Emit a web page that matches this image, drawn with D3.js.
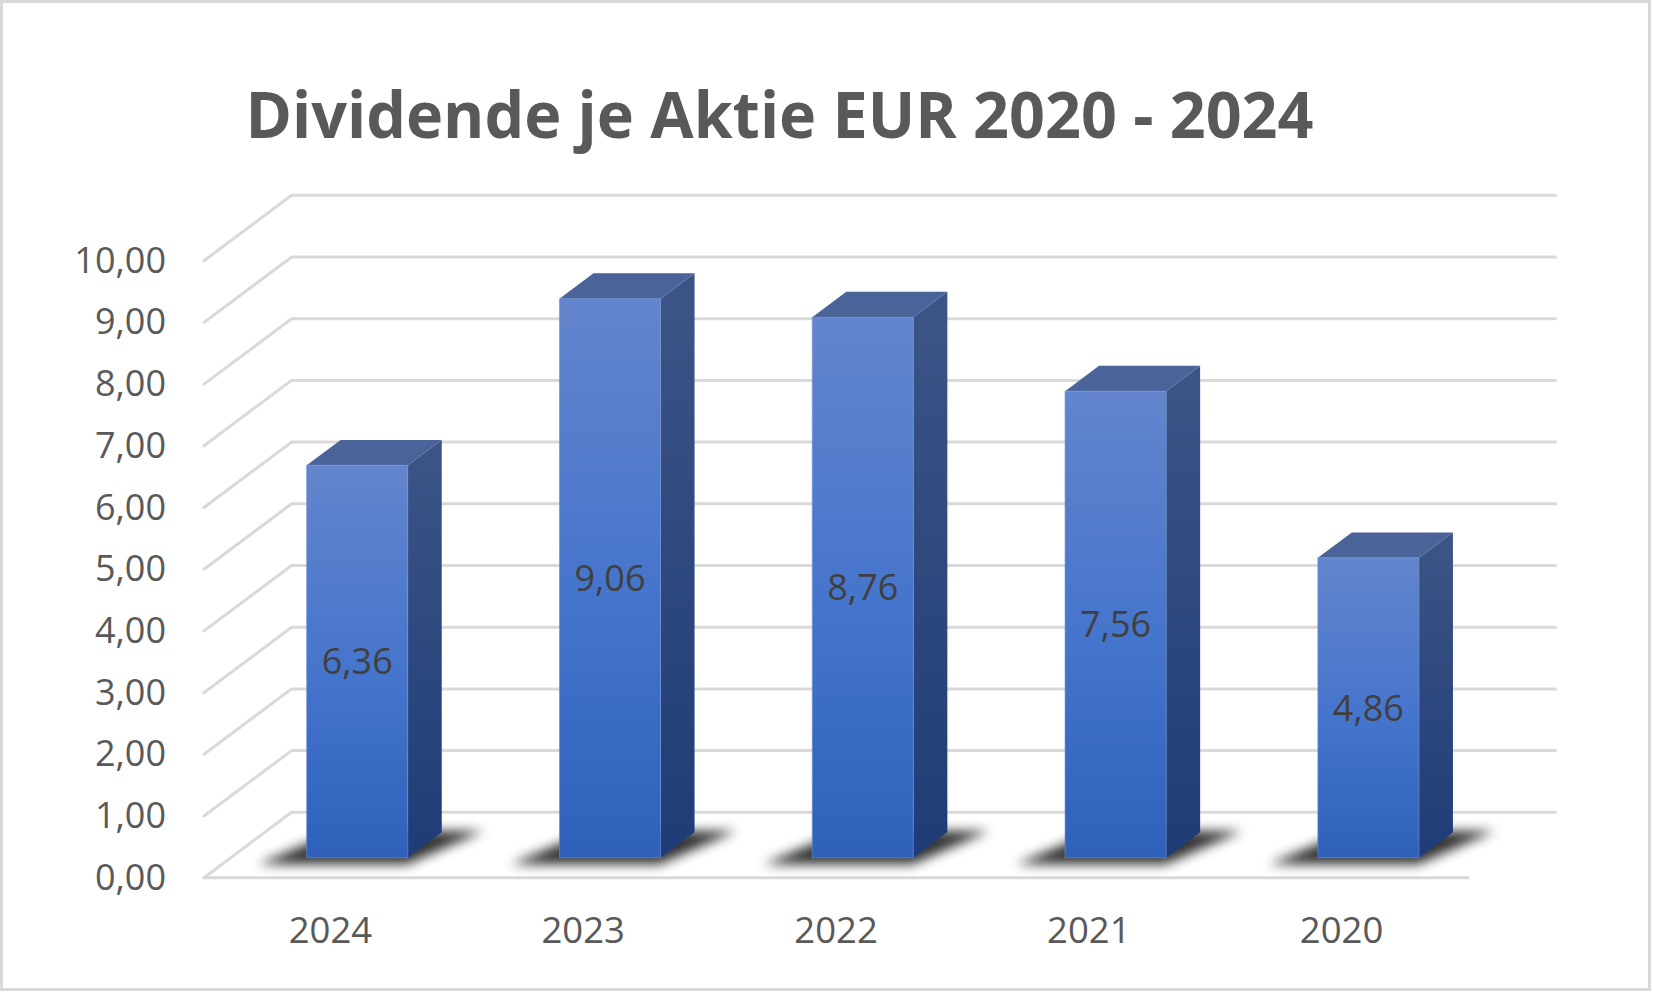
<!DOCTYPE html>
<html>
<head>
<meta charset="utf-8">
<script src="https://cdn.jsdelivr.net/npm/d3@7"></script>
<style>
  body { margin: 0; background: #fff; }
  svg { display: block; font-family: "Open Sans", "Noto Sans", sans-serif; }
</style>
</head>
<body>
<svg width="1653" height="993"></svg>
<script>
// data
const title = 'Dividende je Aktie EUR 2020 - 2024';
const years = ['2024', '2023', '2022', '2021', '2020'];
const dividends = [6.36, 9.06, 8.76, 7.56, 4.86];
const yTicks = [0, 1, 2, 3, 4, 5, 6, 7, 8, 9, 10];

const de = d3.formatLocale({ decimal: ',', thousands: '.', grouping: [3], currency: ['', ' €'] });
const fmt = de.format('.2f');

const svg = d3.select('svg');

// floor front-left corner and the depth vector of the fake 3d box
const x0 = 204, y0 = 877.7;
const DX = 87.6, DY = 65.4;
const floorW = 1264;
const barFront = 0.306, barBack = 0.694;

const x = d3.scaleBand().domain(years).range([0, floorW])
  .paddingInner(0.6).paddingOuter(0.3);
const h = d3.scaleLinear().domain([0, 10]).range([0, 617]);

// projects (category offset, value, depth 0..1) to screen
const proj = (xc, v, d) => [x0 + xc + d * DX, y0 - h(v) - d * DY];

const defs = svg.append('defs');
const front = defs.append('linearGradient').attr('id', 'gFront')
  .attr('x1', 0).attr('y1', 0).attr('x2', 0).attr('y2', 1);
front.append('stop').attr('offset', 0).attr('stop-color', '#6385cc');
front.append('stop').attr('offset', 0.55).attr('stop-color', '#4474cc');
front.append('stop').attr('offset', 1).attr('stop-color', '#2f61bb');
const side = defs.append('linearGradient').attr('id', 'gSide')
  .attr('x1', 0).attr('y1', 0).attr('x2', 0).attr('y2', 1);
side.append('stop').attr('offset', 0).attr('stop-color', '#3d5586');
side.append('stop').attr('offset', 1).attr('stop-color', '#1f3c77');
defs.append('filter').attr('id', 'blur')
  .attr('x', '-50%').attr('y', '-100%').attr('width', '200%').attr('height', '300%')
  .append('feGaussianBlur').attr('stdDeviation', 6);

// border
svg.append('rect')
  .attr('x', 1.5).attr('y', 1.5).attr('width', 1648).attr('height', 988)
  .attr('fill', '#fff').attr('stroke', '#d9d9d9').attr('stroke-width', 3);

// title
svg.append('text')
  .attr('x', 245.5).attr('y', 138.3)
  .attr('font-size', 64).attr('font-weight', 700).attr('fill', '#595959')
  .attr('textLength', 1068).attr('lengthAdjust', 'spacingAndGlyphs')
  .text(title);

// gridlines: side wall diagonal + back wall line
const line = d3.line();
svg.append('g').selectAll('path').data(yTicks).join('path')
  .attr('d', v => line([proj(0, v, 0), proj(0, v, 1), proj(floorW, v, 1)]))
  .attr('fill', 'none').attr('stroke', '#d9d9d9').attr('stroke-width', 3)
  .attr('stroke-linecap', 'round').attr('stroke-linejoin', 'round');
svg.append('path')
  .attr('d', line([proj(0, 0, 0), proj(floorW, 0, 0)]))
  .attr('stroke', '#d9d9d9').attr('stroke-width', 3).attr('stroke-linecap', 'round');

const data = years.map((y, i) => ({ year: y, value: dividends[i] }));
const bw = x.bandwidth();

// shadows on the floor
svg.append('g').selectAll('path').data(data).join('path')
  .attr('d', d => {
    const xl = x(d.year);
    const a = proj(xl - 40, 0, barFront - 0.1);
    const b = proj(xl + bw + 8, 0, barFront - 0.1);
    const c = proj(xl + bw + 40, 0, barBack + 0.02);
    const e = proj(xl - 5, 0, barBack + 0.02);
    return line([a, b, c, e]) + 'Z';
  })
  .attr('fill', '#000').attr('opacity', 0.8).attr('filter', 'url(#blur)');

// bars
const bars = svg.append('g').selectAll('g').data(data).join('g');
bars.append('path')
  .attr('d', d => {
    const xl = x(d.year);
    return line([proj(xl + bw, 0, barFront), proj(xl + bw, d.value, barFront),
      proj(xl + bw, d.value, barBack), proj(xl + bw, 0, barBack)]) + 'Z';
  })
  .attr('fill', 'url(#gSide)');
bars.append('path')
  .attr('d', d => {
    const xl = x(d.year);
    return line([proj(xl, d.value, barFront), proj(xl + bw, d.value, barFront),
      proj(xl + bw, d.value, barBack), proj(xl, d.value, barBack)]) + 'Z';
  })
  .attr('fill', '#4a6399');
bars.append('rect')
  .attr('x', d => proj(x(d.year), d.value, barFront)[0])
  .attr('y', d => proj(x(d.year), d.value, barFront)[1])
  .attr('width', bw)
  .attr('height', d => h(d.value))
  .attr('fill', 'url(#gFront)')
  .attr('stroke', '#6f8fd2').attr('stroke-width', 1).attr('stroke-opacity', 0.6);

// value labels in the middle of the front face
bars.append('text')
  .attr('x', d => proj(x(d.year) + bw / 2, d.value / 2, barFront)[0])
  .attr('y', d => proj(x(d.year) + bw / 2, d.value / 2, barFront)[1])
  .attr('dy', '0.36em').attr('text-anchor', 'middle')
  .attr('font-size', 36).attr('fill', '#404040')
  .text(d => fmt(d.value));

// value axis at the front-left edge
const yAxisScale = d3.scaleLinear().domain([0, 10]).range([y0, y0 - h(10)]);
svg.append('g')
  .attr('transform', `translate(${x0},0)`)
  .call(d3.axisLeft(yAxisScale).tickValues(yTicks).tickFormat(fmt)
    .tickSize(0).tickPadding(38))
  .call(g => g.select('.domain').remove())
  .call(g => g.selectAll('text')
    .attr('font-family', '"Open Sans", sans-serif')
    .attr('font-size', 36).attr('fill', '#595959'));

// category axis under the front floor edge
const xAxisScale = x.copy().range([x0, x0 + floorW]);
svg.append('g')
  .attr('transform', `translate(0,${y0})`)
  .call(d3.axisBottom(xAxisScale).tickSize(0).tickPadding(39))
  .call(g => g.select('.domain').remove())
  .call(g => g.selectAll('text')
    .attr('font-family', '"Open Sans", sans-serif')
    .attr('font-size', 36.5).attr('fill', '#595959'));
</script>
</body>
</html>
